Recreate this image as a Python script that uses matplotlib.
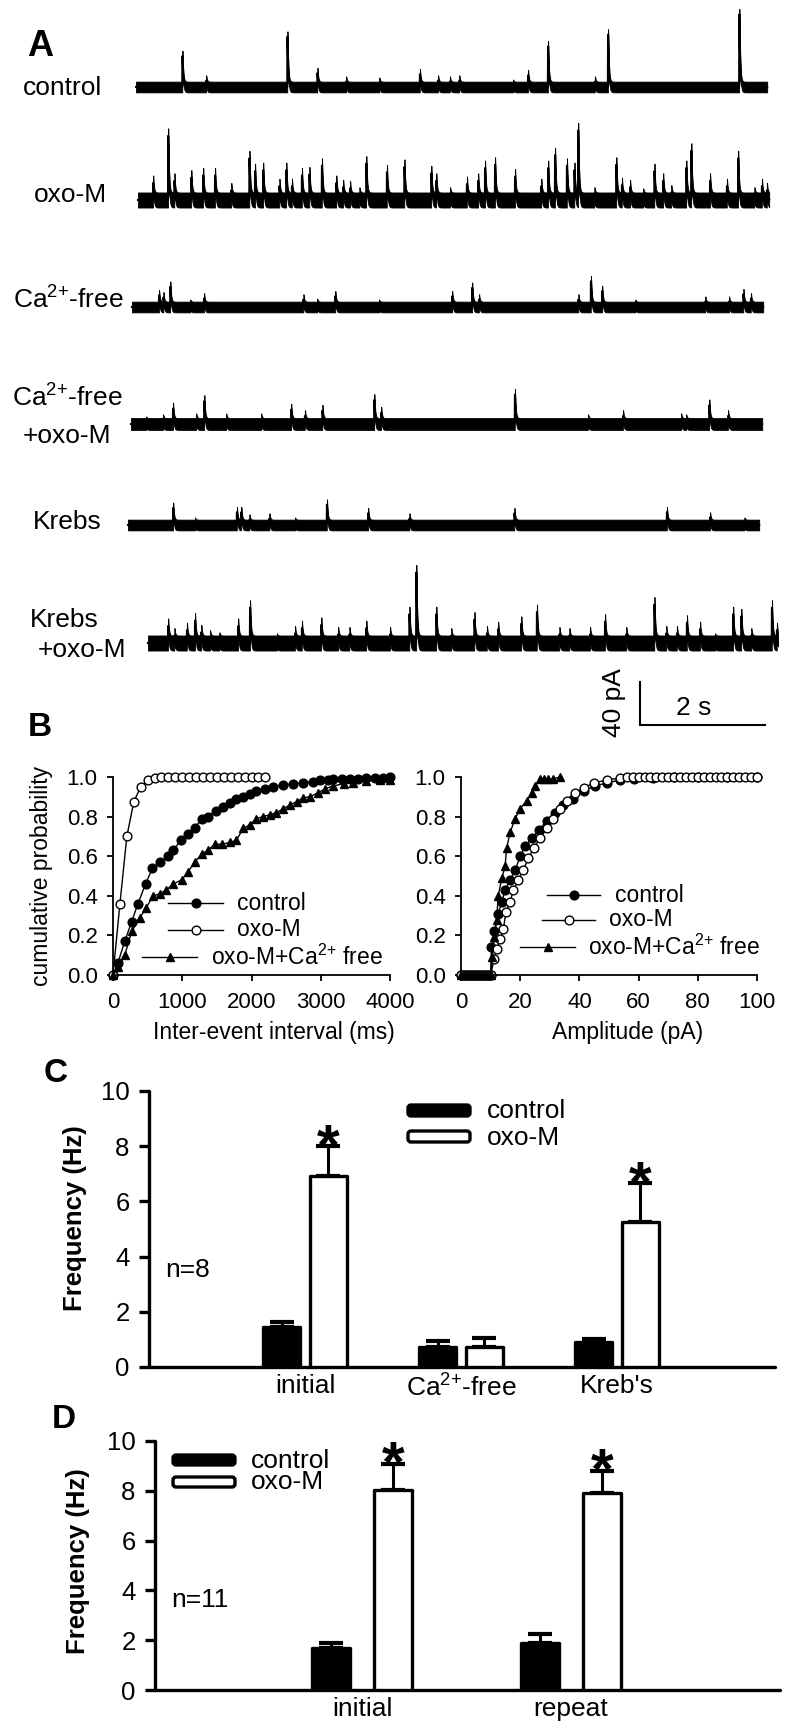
import numpy as np
import matplotlib
matplotlib.use('Agg')
import matplotlib.pyplot as plt
from matplotlib.patches import FancyBboxPatch

plt.rcParams['font.family'] = ['Liberation Sans', 'DejaVu Sans']
plt.rcParams['mathtext.fontset'] = 'custom'
plt.rcParams['mathtext.rm'] = 'Liberation Sans'
plt.rcParams['mathtext.it'] = 'Liberation Sans:italic'
plt.rcParams['mathtext.bf'] = 'Liberation Sans:bold'
plt.rcParams['mathtext.default'] = 'regular'

# ---------------- panel A: spontaneous events (time in s, amplitude in pA)
ctrl_t = [0.74, 1.12, 2.42, 2.90, 3.36, 3.89, 4.54, 4.83, 5.02, 5.17, 6.03, 6.27, 6.59, 7.34, 7.55, 9.65]
ctrl_a = [34, 11, 52, 18, 10, 9, 17, 11, 10, 11, 7, 16, 43, 10, 54, 73]

oxo_t = [0.24, 0.48, 0.58, 0.85, 1.04, 1.23, 1.49, 1.78, 1.87, 2.00, 2.26, 2.37, 2.46, 2.62, 2.74,
         2.94, 3.17, 3.28, 3.39, 3.54, 3.65, 3.98, 4.26, 4.69, 4.77, 4.99, 5.26, 5.44, 5.55, 5.71,
         6.03, 6.45, 6.56, 6.67, 6.86, 6.98, 7.04, 7.30, 7.65, 7.74, 7.87, 8.08, 8.26, 8.40, 8.53,
         8.77, 8.85, 9.15, 9.42, 9.60, 9.86, 9.98, 10.06]
oxo_a = [23, 67, 25, 28, 30, 30, 16, 46, 34, 35, 20, 35, 20, 30, 31,
         39, 23, 19, 18, 12, 41, 33, 38, 32, 25, 12, 22, 25, 37, 40,
         29, 20, 37, 49, 39, 35, 72, 12, 40, 21, 19, 11, 34, 25, 14,
         37, 53, 25, 20, 46, 12, 20, 16]

cafree_t = [0.43, 0.50, 0.61, 0.93, 1.15, 2.74, 2.96, 3.25, 3.95, 5.12, 5.44, 5.55, 7.14, 7.34,
            7.52, 8.05, 9.17, 9.55, 9.78, 9.90]
cafree_a = [16, 14, 24, 7, 13, 12, 8, 15, 7, 15, 23, 12, 12, 29, 20, 7, 10, 10, 17, 13]

caoxo_t = [0.24, 0.51, 0.67, 1.04, 1.17, 1.52, 2.08, 2.56, 2.78, 3.06, 3.89, 4.00, 6.14, 7.31,
           7.87, 8.80, 8.88, 9.25, 9.55]
caoxo_a = [7, 9, 20, 10, 27, 10, 10, 19, 13, 18, 28, 16, 33, 9, 13, 10, 9, 23, 13]

krebs_t = [0.72, 1.07, 1.74, 1.81, 1.94, 2.26, 2.67, 3.18, 3.84, 4.50, 6.18, 8.62, 9.31, 9.86]
krebs_a = [21, 7, 17, 17, 10, 11, 7, 24, 16, 11, 16, 17, 12, 7]

kroxo_t = [0.32, 0.42, 0.62, 0.75, 0.85, 0.99, 1.14, 1.44, 1.63, 2.06, 2.35, 2.46, 2.77, 3.04,
           3.22, 3.49, 3.87, 4.18, 4.29, 4.61, 4.85, 5.22, 5.42, 5.60, 5.97, 6.22, 6.58, 6.74,
           7.07, 7.31, 7.65, 8.10, 8.29, 8.46, 8.62, 8.83, 9.07, 9.36, 9.49, 9.65, 9.98, 10.06]
kroxo_a = [23, 14, 19, 28, 17, 12, 10, 23, 40, 9, 16, 21, 24, 15,
           15, 21, 15, 34, 73, 34, 14, 29, 16, 20, 25, 36, 15, 14,
           15, 27, 15, 43, 16, 16, 26, 20, 9, 34, 32, 14, 40, 19]

trace_events = [(ctrl_t, ctrl_a), (oxo_t, oxo_a), (cafree_t, cafree_a),
                (caoxo_t, caoxo_a), (krebs_t, krebs_a), (kroxo_t, kroxo_a)]
trace_dur = [10.1, 10.1, 10.1, 10.1, 10.1, 10.08]

# ---------------- panel B: cumulative distributions
iei_ctrl_ms = [0, 70, 170, 270, 360, 470, 570, 680, 790, 870, 980, 1080, 1180, 1280, 1370, 1490,
               1590, 1690, 1780, 1880, 1980, 2070, 2190, 2310, 2460, 2600, 2750, 2890, 2990, 3100,
               3180, 3300, 3420, 3540, 3660, 3780, 3900, 4000]
iei_ctrl_p = [0.0, 0.06, 0.17, 0.27, 0.36, 0.46, 0.54, 0.57, 0.60, 0.63, 0.68, 0.71, 0.74, 0.79,
              0.80, 0.83, 0.85, 0.87, 0.89, 0.90, 0.915, 0.93, 0.94, 0.95, 0.96, 0.965, 0.97, 0.975,
              0.983, 0.985, 0.988, 0.99, 0.99, 0.992, 0.995, 0.995, 0.997, 0.998]
iei_oxo_ms = [0, 100, 200, 300, 400, 500, 600, 700, 800, 900, 1000, 1100, 1200, 1300, 1400, 1500,
              1600, 1700, 1800, 1900, 2000, 2100, 2200]
iei_oxo_p = [0.0, 0.36, 0.70, 0.875, 0.95, 0.985, 0.995, 1.0, 1.0, 1.0, 1.0, 1.0, 1.0, 1.0, 1.0,
             1.0, 1.0, 1.0, 1.0, 1.0, 1.0, 1.0, 1.0]
iei_ca_ms = [0, 70, 170, 270, 390, 480, 580, 680, 770, 870, 990, 1080, 1180, 1280, 1370, 1470, 1570,
             1690, 1780, 1880, 1980, 2070, 2170, 2270, 2360, 2460, 2560, 2650, 2750, 2840, 2960, 3060,
             3180, 3330, 3470, 3660, 3850, 4000]
iei_ca_p = [0.0, 0.04, 0.10, 0.22, 0.29, 0.34, 0.40, 0.41, 0.43, 0.46, 0.48, 0.52, 0.57, 0.61, 0.63,
            0.66, 0.66, 0.67, 0.68, 0.74, 0.76, 0.79, 0.80, 0.81, 0.82, 0.84, 0.86, 0.875, 0.895, 0.90,
            0.92, 0.94, 0.955, 0.966, 0.97, 0.98, 0.983, 0.985]

amp_ctrl_pa = [0, 1, 2, 3, 4, 5, 6, 7, 8, 9, 10, 10.3, 11.3, 12.6, 13.8, 14.9, 16.6, 18.3, 20.0, 21.6,
               23.9, 26.2, 29.0, 31.8, 34.6, 38.0, 41.4, 45.3, 49.3, 53.8, 58.3, 65.0, 72, 80, 90, 100]
amp_ctrl_p = [0, 0, 0, 0, 0, 0, 0, 0, 0, 0, 0, 0.14, 0.22, 0.31, 0.37, 0.43, 0.48, 0.53, 0.60, 0.65,
              0.69, 0.73, 0.78, 0.82, 0.86, 0.89, 0.93, 0.955, 0.97, 0.985, 0.99, 0.995, 1.0, 1.0, 1.0, 1.0]
amp_oxo_pa = [0, 1, 2, 3, 4, 5, 6, 7, 8, 9, 10, 11.2, 12.0, 13.2, 14.3, 15.2, 16.6, 17.7, 19.4, 21.0,
              22.8, 24.5, 26.7, 29.0, 31.2, 33.5, 35.7, 38.6, 41.4, 44.8, 49.3, 53.8, 56, 58, 60, 62,
              64, 66, 68, 70, 72, 74, 76, 78, 80, 82, 84, 86, 88, 90, 92, 94, 96, 98, 100]
amp_oxo_p = [0, 0, 0, 0, 0, 0, 0, 0, 0, 0, 0, 0.08, 0.13, 0.18, 0.23, 0.32, 0.37, 0.43, 0.48, 0.53,
             0.59, 0.64, 0.69, 0.74, 0.79, 0.84, 0.88, 0.92, 0.945, 0.97, 0.985, 0.995, 1.0, 1.0, 1.0,
             1.0, 1.0, 1.0, 1.0, 1.0, 1.0, 1.0, 1.0, 1.0, 1.0, 1.0, 1.0, 1.0, 1.0, 1.0, 1.0, 1.0, 1.0,
             1.0, 1.0]
amp_ca_pa = [0, 1, 2, 3, 4, 5, 6, 7, 8, 9, 10, 10.5, 11.3, 12.0, 12.6, 13.8, 14.9, 15.4, 16.6, 18.3,
             20.0, 22.2, 23.9, 25.0, 26.7, 28.0, 29.5, 31.2, 33.3]
amp_ca_p = [0, 0, 0, 0, 0, 0, 0, 0, 0, 0, 0, 0.09, 0.19, 0.28, 0.40, 0.49, 0.55, 0.64, 0.72, 0.79,
            0.84, 0.88, 0.92, 0.955, 0.99, 0.99, 0.99, 0.99, 1.0]

# ---------------- panels C and D: mean frequency (Hz) + SEM
CA = r'Ca$^{2{+}}$'
c_groups = ['initial', CA + '-free', "Kreb's"]
c_ctrl = [1.45, 0.72, 0.90]
c_ctrl_err = [0.18, 0.22, 0.10]
c_oxo = [6.92, 0.74, 5.26]
c_oxo_err = [1.08, 0.31, 1.40]
c_sig = [True, False, True]

d_groups = ['initial', 'repeat']
d_ctrl = [1.69, 1.88]
d_ctrl_err = [0.21, 0.37]
d_oxo = [8.03, 7.93]
d_oxo_err = [1.05, 0.87]
d_sig = [True, True]

W, H = 800, 1730
fig = plt.figure(figsize=(8, 17.3), dpi=100)


def rect(l, t, r, b):
    return [l / W, 1 - b / H, (r - l) / W, (b - t) / H]


# ---- A
PX_S, PX_PA = 62.5, 1.075
row_start = [136, 138, 132, 131, 128, 148]
row_base = [87, 200, 307, 424, 525, 643]
row_noise = [5, 7, 5, 5.5, 5, 7]

axA = fig.add_axes(rect(0, 0, 800, 760))
axA.set_xlim(0, 800 / PX_S)
axA.set_ylim(0, 760 / PX_PA)
axA.axis('off')

tr, td = 0.0015, 0.012
tpk = tr * td / (td - tr) * np.log(td / tr)
norm = np.exp(-tpk / td) - np.exp(-tpk / tr)
for (times, amps), dur, x0, yb, h in zip(trace_events, trace_dur, row_start, row_base, row_noise):
    t = np.arange(0, dur, 0.001)
    y = np.zeros_like(t)
    for ti, ai in zip(times, amps):
        s = t - ti
        m = s > 0
        y[m] += max(ai - h, 0) * (np.exp(-s[m] / td) - np.exp(-s[m] / tr)) / norm
    base = (760 - yb) / PX_PA
    xs = x0 / PX_S + t
    axA.fill_between(xs, base + y - h, base + y + h, color='k', lw=0.6)
    axA.plot(xs, base + y, color='k', lw=1.5)

# scale bar: 40 pA, 2 s
sx, sy = 640 / PX_S, (760 - 725) / PX_PA
axA.plot([sx, sx, sx + 2], [sy + 40, sy, sy], color='k', lw=1.5, solid_joinstyle='miter')

# ---- overlay in pixel coordinates for labels / legends
ov = fig.add_axes([0, 0, 1, 1], zorder=10)
ov.set_xlim(0, W)
ov.set_ylim(H, 0)
ov.axis('off')
ov.patch.set_alpha(0)

lab = 19
ca_lab = CA + '-free'
for txt, x, y in [('control', 63, 88), ('oxo-M', 70, 195), (ca_lab, 68, 300),
                  (ca_lab, 67, 398), ('+oxo-M', 67, 436), ('Krebs', 67, 522),
                  ('Krebs', 64, 620), ('+oxo-M', 82, 650)]:
    ov.text(x, y, txt, fontsize=lab, ha='center', va='center')
ov.text(614, 703, '40 pA', fontsize=lab, rotation=90, ha='center', va='center')
ov.text(694, 708, '2 s', fontsize=lab, ha='center', va='center')

for txt, x, y, fs in [('A', 40, 47, 26), ('B', 40, 728, 24), ('C', 56, 1074, 24), ('D', 64, 1419, 24)]:
    ov.text(x, y, txt, fontsize=fs, fontweight='bold', ha='center', va='center')

# ---- B
axL = fig.add_axes(rect(113, 777, 390, 975))
axR = fig.add_axes(rect(461, 777, 757, 975))
for ax in (axL, axR):
    for sp in ('top', 'right'):
        ax.spines[sp].set_visible(False)
    for sp in ('left', 'bottom'):
        ax.spines[sp].set_linewidth(1.3)
    ax.set_ylim(0, 1)
    ax.set_yticks([0, 0.2, 0.4, 0.6, 0.8, 1.0])
    ax.set_yticklabels(['0.0', '0.2', '0.4', '0.6', '0.8', '1.0'])
    ax.tick_params(direction='out', length=4, width=1.3, labelsize=16)
    ax.tick_params(axis='y', pad=7)
    ax.tick_params(axis='x', pad=8)
axL.set_xlim(0, 4000)
axL.set_xticks([0, 1000, 2000, 3000, 4000])
axR.set_xlim(0, 100)
axR.set_xticks([0, 20, 40, 60, 80, 100])

mk = dict(color='k', lw=1.0, ms=6.3, clip_on=False)
axL.plot(iei_ctrl_ms, iei_ctrl_p, marker='o', mfc='k', **mk)
axL.plot(iei_oxo_ms, iei_oxo_p, marker='o', mfc='white', mew=1.0, **mk)
axL.plot(iei_ca_ms, iei_ca_p, marker='^', mfc='k', **mk)
axR.plot(amp_ctrl_pa, amp_ctrl_p, marker='o', mfc='k', **mk)
axR.plot(amp_oxo_pa, amp_oxo_p, marker='o', mfc='white', mew=1.0, **mk)
axR.plot(amp_ca_pa, amp_ca_p, marker='^', mfc='k', **mk)

ov.text(42, 876, 'cumulative probability', fontsize=16.5, rotation=90, ha='center', va='center')
ov.text(274, 1032, 'Inter-event interval (ms)', fontsize=16.5, ha='center', va='center')
ov.text(628, 1032, 'Amplitude (pA)', fontsize=16.5, ha='center', va='center')

ca_free = 'oxo-M+' + CA + ' free'
legB = [
    [('control', 'o', 'k', 168, 223, 237, 903), ('oxo-M', 'o', 'white', 168, 223, 237, 930),
     (ca_free, '^', 'k', 142, 197, 211, 957)],
    [('control', 'o', 'k', 547, 600, 615, 895), ('oxo-M', 'o', 'white', 542, 595, 609, 920),
     (ca_free, '^', 'k', 520, 575, 588, 947)],
]
for rows in legB:
    for txt, m, fc, x1, x2, xt, y in rows:
        ov.plot([x1, x2], [y, y], color='k', lw=1.0)
        ov.plot([(x1 + x2) / 2], [y], marker=m, mfc=fc, mec='k', mew=1.0, ms=6.3)
        ov.text(xt, y, txt, fontsize=16.5, ha='left', va='center')

# ---- C and D
LW = 2.4


def bar_panel(box, xlim, groups, ctrl, ctrl_err, oxo, oxo_err, sig, off, width):
    ax = fig.add_axes(rect(*box))
    for sp in ('top', 'right'):
        ax.spines[sp].set_visible(False)
    for sp in ('left', 'bottom'):
        ax.spines[sp].set_linewidth(LW)
        ax.spines[sp].set_capstyle('round')
    gx = np.arange(len(groups))
    ax.bar(gx - off, ctrl, width, color='k', edgecolor='k', lw=LW, zorder=3, joinstyle='round')
    ax.bar(gx + off, oxo, width, color='white', edgecolor='k', lw=LW, zorder=3, joinstyle='round')
    ax.errorbar(gx - off, ctrl, yerr=[np.zeros(len(gx)), ctrl_err], fmt='none', ecolor='k',
                elinewidth=2.2, capsize=8.3, capthick=3, zorder=2)
    ax.errorbar(gx + off, oxo, yerr=[np.zeros(len(gx)), oxo_err], fmt='none', ecolor='k',
                elinewidth=2.2, capsize=8.3, capthick=3, zorder=2)
    for x, v, e, s in zip(gx + off, oxo, oxo_err, sig):
        if s:
            ax.annotate('*', (x, v + e), xytext=(0, -13), textcoords='offset points', ha='center',
                        va='baseline', fontsize=42, fontweight='bold')
    ax.set_xlim(*xlim)
    ax.set_ylim(0, 10)
    ax.set_yticks([0, 2, 4, 6, 8, 10])
    ax.tick_params(axis='y', direction='out', length=7, width=LW, labelsize=18.5, pad=7)
    ax.set_xticks(gx)
    ax.set_xticklabels(groups)
    ax.tick_params(axis='x', length=0, labelsize=19, pad=5)
    return ax


bar_panel((149, 1091, 775, 1367), (-1.0, 3.013), c_groups, c_ctrl, c_ctrl_err, c_oxo, c_oxo_err,
          c_sig, 0.15, 0.24)
bar_panel((155, 1441, 780, 1690), (-0.99, 2.0), d_groups, d_ctrl, d_ctrl_err, d_oxo, d_oxo_err,
          d_sig, 0.148, 0.185)

for x, y in [(75, 1218), (78, 1561)]:
    ov.text(x, y, 'Frequency (Hz)', fontsize=18.5, fontweight='bold', rotation=90,
            ha='center', va='center')
ov.text(165, 1270, 'n=8', fontsize=19, ha='left', va='center')
ov.text(171, 1600, 'n=11', fontsize=19, ha='left', va='center')

for bx, by1, by2, tx, ty1, ty2, hh in [(408, 1105, 1131, 487, 1111, 1138, 11),
                                       (173, 1455, 1477, 251, 1461, 1482, 10)]:
    ov.add_patch(FancyBboxPatch((bx, by1), 62, hh, boxstyle='round,pad=0,rounding_size=3',
                                fc='k', ec='k', lw=LW))
    ov.add_patch(FancyBboxPatch((bx, by2), 62, hh, boxstyle='round,pad=0,rounding_size=3',
                                fc='white', ec='k', lw=LW))
    ov.text(tx, ty1, 'control', fontsize=19, ha='left', va='center')
    ov.text(tx, ty2, 'oxo-M', fontsize=19, ha='left', va='center')

fig.savefig('out.png', dpi=100)
